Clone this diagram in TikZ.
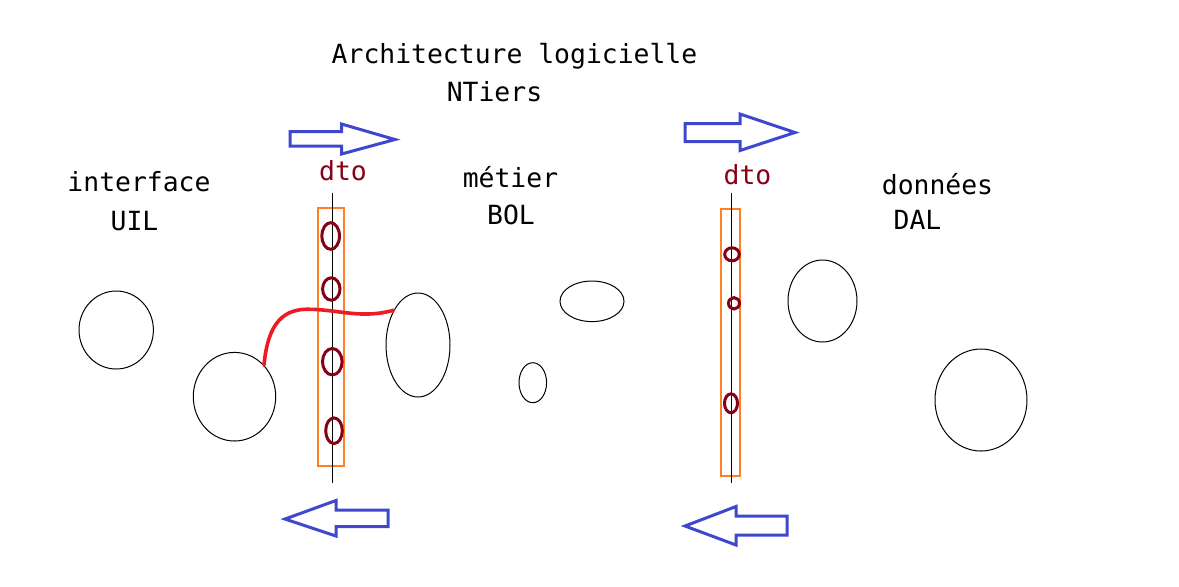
\documentclass[tikz,border=0pt]{standalone}
\usepackage{fontspec}
\setmonofont{DejaVu Sans Mono}
\usetikzlibrary{shapes.geometric}
\definecolor{fleche}{HTML}{3F48CC}
\definecolor{bordeaux}{HTML}{880015}
\definecolor{rouge}{HTML}{ED1C24}
\definecolor{cadre}{HTML}{FF7F27}
\tikzset{
	txt/.style={anchor=base,inner sep=0pt,font=\ttfamily\fontsize{13.2}{16}\selectfont},
	comp/.style={ellipse,draw,line width=0.5pt,inner sep=0pt},
	obj/.style={ellipse,draw=bordeaux,line width=1.5pt,inner sep=0pt},
	gros/.style={draw=fleche,line width=1.5pt,line join=miter}
}

\begin{document}
\begin{tikzpicture}[x=0.5pt,y=-0.5pt]
			\useasboundingbox (0,0) rectangle (1179,586);
			% titre
			\node[txt] (titre) at (514.5,63) {Architecture logicielle};
			\node[txt] (ntiers) at (494.5,101.5) {NTiers};
			% couches
			\node[txt] (ui) at (139,191.5) {interface};
			\node[txt] (uil) at (134.5,230) {UIL};
			\node[txt] (metier) at (510.5,187.5) {métier};
			\node[txt] (bol) at (511,224.5) {BOL};
			\node[txt] (donnees) at (937.5,194) {données};
			\node[txt] (dal) at (917.5,229) {DAL};
			\node[txt,text=bordeaux] (dtoa) at (343,180) {dto};
			\node[txt,text=bordeaux] (dtob) at (747.5,184) {dto};
			% fleches
			\draw[gros] (290,131.5) -- (341.5,131.5) -- (341.5,124) -- (395,139.5) -- (341.5,154) -- (341.5,146) -- (290,146) -- cycle;
			\draw[gros] (685,123.5) -- (740,123.5) -- (740,114) -- (795,132.5) -- (740,150.5) -- (740,141.5) -- (685,141.5) -- cycle;
			\draw[gros] (388,510) -- (336,510) -- (336,500.5) -- (285,519) -- (336,536) -- (336,526.5) -- (388,526.5) -- cycle;
			\draw[gros] (787,516) -- (736,516) -- (736,506.5) -- (685,526) -- (736,545) -- (736,535) -- (787,535) -- cycle;
			% dto gauche
			\draw[cadre,line width=1pt] (317.5,208) rectangle (343.5,466);
			\draw[line width=0.7pt] (332.3,193) -- (332.3,483);
			\node[obj,minimum width=8.8pt,minimum height=13.3pt] (o1) at (330.7,236) {};
			\node[obj,minimum width=8.7pt,minimum height=11.2pt] (o2) at (331.3,289) {};
			\node[obj,minimum width=9.8pt,minimum height=13.2pt] (o3) at (332.3,361.7) {};
			\node[obj,minimum width=8.3pt,minimum height=12.8pt] (o4) at (334,430.7) {};
			% dto droite
			\draw[cadre,line width=1pt] (720.7,209) rectangle (740.3,476);
			\draw[line width=0.7pt] (731.3,193) -- (731.3,483);
			\node[obj,minimum width=7.3pt,minimum height=6.5pt] (o5) at (732,254.3) {};
			\node[obj,minimum width=5.5pt,minimum height=5.7pt] (o6) at (734,303.3) {};
			\node[obj,minimum width=6.5pt,minimum height=9.5pt] (o7) at (731,403.3) {};
			% composants
			\node[comp,minimum width=37.2pt,minimum height=39pt] (ca) at (116.2,330) {};
			\node[comp,minimum width=41.2pt,minimum height=44.3pt] (cb) at (234.5,396.7) {};
			\node[comp,minimum width=32pt,minimum height=52pt] (cc) at (418,345) {};
			\node[comp,minimum width=32pt,minimum height=20.3pt] (cd) at (592,301.3) {};
			\node[comp,minimum width=13.8pt,minimum height=20pt] (ce) at (532.8,382.7) {};
			\node[comp,minimum width=34.5pt,minimum height=41pt] (cf) at (822.5,301) {};
			\node[comp,minimum width=46pt,minimum height=51pt] (cg) at (981,400) {};
			% liaison
			\coordinate (mi) at (311,309.3);
			\draw[rouge,line width=1.8pt,line cap=round] (cb.47) .. controls (268,322) and (284,308) .. (mi) .. controls (340,310) and (362,319) .. (cc.125);
		\end{tikzpicture}
\end{document}
